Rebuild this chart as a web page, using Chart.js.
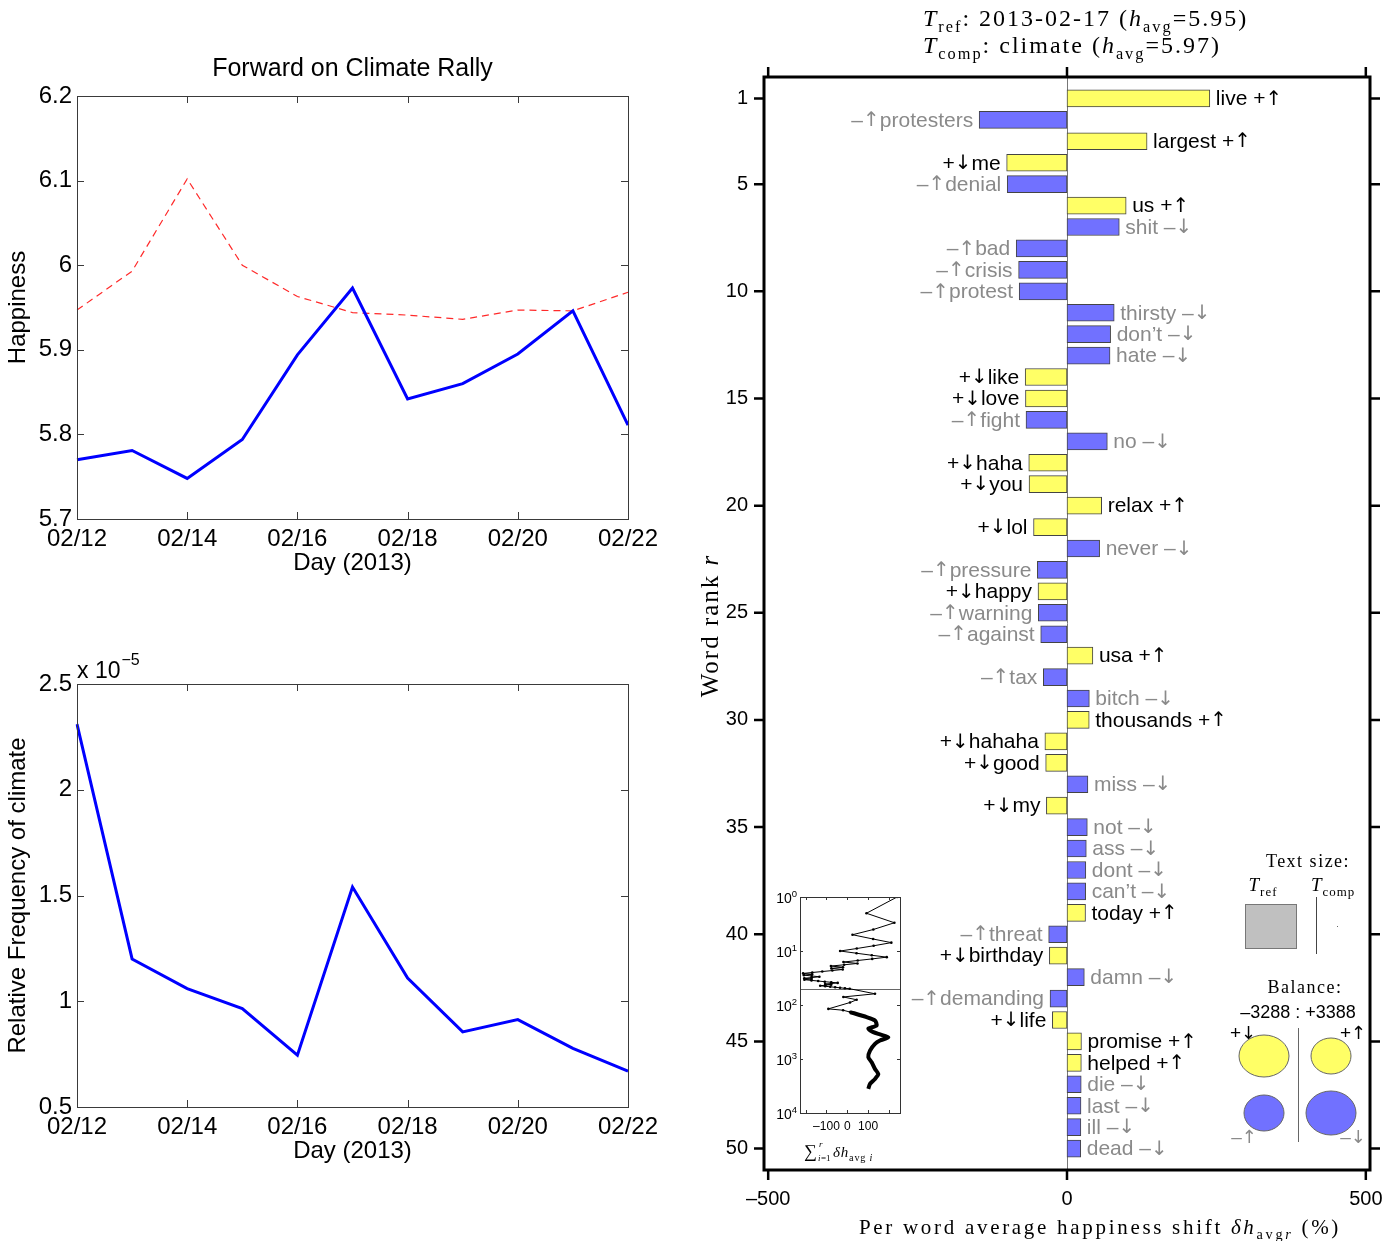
<!DOCTYPE html>
<html lang="en">
<head>
<meta charset="UTF-8">
<title>Forward on Climate Rally - word shift</title>
<script src="https://cdn.jsdelivr.net/npm/chart.js"></script>
<style>
  body { margin: 0; background: #fff; }
  #wrap { position: relative; width: 1391px; height: 1241px; background: #fff; }
  canvas { position: absolute; }
</style>
</head>
<body>
<div id="wrap">
  <canvas id="happyChart" style="left:0;top:40px;width:660px;height:560px" width="660" height="560"></canvas>
  <canvas id="freqChart" style="left:0;top:630px;width:660px;height:558px" width="660" height="558"></canvas>
  <canvas id="shiftChart" style="left:680px;top:0;width:711px;height:1241px" width="711" height="1241"></canvas>
  <canvas id="insetChart" style="left:770px;top:885px;width:145px;height:280px" width="145" height="280"></canvas>
</div>

<script>
// ---- data ----
const days = ['02/12', '02/13', '02/14', '02/15', '02/16', '02/17', '02/18', '02/19', '02/20', '02/21', '02/22'];
const happiness = [5.770, 5.781, 5.748, 5.794, 5.894, 5.973, 5.842, 5.860, 5.895, 5.946, 5.811];
const refHappiness = [5.947, 5.993, 6.102, 6.000, 5.963, 5.944, 5.941, 5.936, 5.947, 5.946, 5.968];
const climateFreq = [2.31, 1.20, 1.06, 0.965, 0.745, 1.54, 1.11, 0.855, 0.913, 0.777, 0.67]; // x 10^-5

const words = ['live', 'protesters', 'largest', 'me', 'denial', 'us', 'shit', 'bad', 'crisis', 'protest',
  'thirsty', 'don\u2019t', 'hate', 'like', 'love', 'fight', 'no', 'haha', 'you', 'relax',
  'lol', 'never', 'pressure', 'happy', 'warning', 'against', 'usa', 'tax', 'bitch', 'thousands',
  'hahaha', 'good', 'miss', 'my', 'not', 'ass', 'dont', 'can\u2019t', 'today', 'threat',
  'birthday', 'damn', 'demanding', 'life', 'promise', 'helped', 'die', 'last', 'ill', 'dead'];
const shifts = [239, -147, 134, -101, -100, 99, 87.5, -85, -81, -80,
  79, 73, 72, -70, -69.5, -68.6, 67.5, -64, -63.5, 58,
  -56, 54.6, -49.6, -48.5, -48, -44, 43.3, -39.6, 37.4, 37.2,
  -37, -35.7, 35, -34.5, 34, 32.3, 31.5, 31.2, 31, -30.7,
  -29.5, 29, -28.4, -24.5, 24.2, 24, 23.8, 23.4, 23.2, 23];
// '+' happier than average word, '-' sadder
const wordKind = ['+', '-', '+', '+', '-', '+', '-', '-', '-', '-',
  '-', '-', '-', '+', '+', '-', '-', '+', '+', '+',
  '+', '-', '-', '+', '-', '-', '+', '-', '-', '+',
  '+', '+', '-', '+', '-', '-', '-', '-', '+', '-',
  '+', '-', '-', '+', '+', '+', '-', '-', '-', '-'];
const rankTicks = [1, 5, 10, 15, 20, 25, 30, 35, 40, 45, 50];
const shiftTicks = [-500, 0, 500];
const balance = [-3288, 3388];

// inset: cumulative shift beyond the top 50 words
const tailRanks = [62, 71, 80, 90, 118, 125, 135];
const tailSums = [133, -19, 45, 13, -91, -20, 13];
const thickRanks = [135, 168, 194, 240, 275, 318, 350, 395, 455, 525, 700, 925, 1150, 1530, 1900, 2340, 2880, 3560];
const thickSums = [13, 93, 133, 141, 101, 125, 157, 197, 157, 133, 109, 101, 117, 133, 149, 133, 109, 101];
const insetRankTicks = [1, 10, 100, 1000, 10000];
const insetSumTicks = [-100, 0, 100];

// ---- common setup ----
const SANS = '"Liberation Sans", Arial, Helvetica, sans-serif';
const SERIF = '"Liberation Serif", "DejaVu Serif", serif';
const ARROWS = '"DejaVu Sans", sans-serif';
Chart.defaults.font.family = SANS;
Chart.defaults.color = '#000';
Chart.defaults.animation = false;
Chart.defaults.events = [];
Chart.defaults.plugins.legend.display = false;
Chart.defaults.plugins.tooltip.enabled = false;

const YELLOW = '#ffff66';
const BLUE = '#7171ff';
const GREYTXT = '#8a8a8a';

// draws text made of runs: n normal, i italic, sub, subi, sup
function drawRich(ctx, runs, x, y, size, family, spacing, align) {
  const fontFor = r => {
    const small = r.s === 'sub' || r.s === 'subi' || r.s === 'sup';
    const it = r.s === 'i' || r.s === 'subi';
    return (it ? 'italic ' : '') + (small ? size * 0.68 : size) + 'px ' + family;
  };
  ctx.save();
  ctx.letterSpacing = spacing + 'px';
  let w = 0;
  runs.forEach(r => { ctx.font = fontFor(r); w += ctx.measureText(r.t).width; });
  let cx = align === 'center' ? x - w / 2 : align === 'right' ? x - w : x;
  ctx.textAlign = 'left';
  ctx.textBaseline = 'alphabetic';
  runs.forEach(r => {
    ctx.font = fontFor(r);
    const dy = (r.s === 'sub' || r.s === 'subi') ? size * 0.25 : r.s === 'sup' ? -size * 0.42 : 0;
    ctx.fillText(r.t, cx, y + dy);
    cx += ctx.measureText(r.t).width;
  });
  ctx.restore();
}

// word label: sans text, arrows from a font with taller arrows
function drawLabel(ctx, text, x, y, size, align) {
  const parts = text.split(/([\u2191\u2193])/).filter(p => p);
  const fontOf = p => (p === '\u2191' || p === '\u2193' ? (size - 1) + 'px ' + ARROWS : size + 'px ' + SANS);
  let w = 0;
  parts.forEach(p => { ctx.font = fontOf(p); w += ctx.measureText(p).width; });
  let cx = align === 'right' ? x - w : align === 'center' ? x - w / 2 : x;
  ctx.textAlign = 'left';
  parts.forEach(p => { ctx.font = fontOf(p); ctx.fillText(p, cx, y); cx += ctx.measureText(p).width; });
}

// MATLAB-like box with inward ticks
const matlabBox = {
  id: 'matlabBox',
  afterDatasetsDraw(chart) {
    const { ctx, chartArea: a, scales } = chart;
    ctx.save();
    ctx.strokeStyle = '#3a3a3a';
    ctx.lineWidth = 1;
    ctx.strokeRect(Math.round(a.left) + 0.5, Math.round(a.top) + 0.5, Math.round(a.width), Math.round(a.height));
    ctx.beginPath();
    scales.y.ticks.forEach(t => {
      const y = Math.round(scales.y.getPixelForValue(t.value)) + 0.5;
      ctx.moveTo(a.left, y); ctx.lineTo(a.left + 7, y);
      ctx.moveTo(a.right, y); ctx.lineTo(a.right - 7, y);
    });
    scales.x.ticks.forEach((t, i) => {
      if (i % 2) return;
      const x = Math.round(scales.x.getPixelForTick(i)) + 0.5;
      ctx.moveTo(x, a.top); ctx.lineTo(x, a.top + 7);
      ctx.moveTo(x, a.bottom); ctx.lineTo(x, a.bottom - 7);
    });
    ctx.stroke();
    const title = chart.options.plugins.boxTitle;
    if (title && title.text) {
      ctx.fillStyle = '#000';
      ctx.font = '25px ' + SANS;
      ctx.textAlign = 'center';
      ctx.textBaseline = 'middle';
      ctx.fillText(title.text, (a.left + a.right) / 2, 29);
    }
    ctx.restore();
  }
};

function leftScales(yOpts, yTitle) {
  return {
    x: {
      grid: { display: false, drawTicks: true, tickLength: 5 }, border: { display: false },
      ticks: { autoSkip: false, maxRotation: 0, padding: 1, font: { size: 24 },
        callback: (v, i) => (i % 2 === 0 ? days[i] : '') },
      title: { display: true, text: 'Day (2013)', font: { size: 24 }, padding: { top: 0, bottom: 22 } },
      afterFit: s => { s.height = 81; }
    },
    y: Object.assign({
      grid: { display: false, drawTicks: false }, border: { display: false },
      title: { display: true, text: yTitle, font: { size: 24 }, padding: { top: 4, bottom: 0 } },
      afterFit: s => { s.width = 77; }
    }, yOpts)
  };
}
const plainNum = v => String(+v.toFixed(2));

// ---- top left: happiness ----
new Chart(document.getElementById('happyChart'), {
  type: 'line',
  data: {
    labels: days,
    datasets: [
      { data: happiness, borderColor: '#0000ff', borderWidth: 3, pointRadius: 0, tension: 0 },
      { data: refHappiness, borderColor: '#ff2a2a', borderWidth: 1.2, borderDash: [7, 5], pointRadius: 0, tension: 0 }
    ]
  },
  options: {
    responsive: false,
    layout: { padding: { top: 56, right: 32 } },
    plugins: { boxTitle: { text: 'Forward on Climate Rally' } },
    scales: leftScales({ min: 5.7, max: 6.2,
      ticks: { stepSize: 0.1, padding: 5, font: { size: 24 }, callback: plainNum } }, 'Happiness')
  },
  plugins: [matlabBox]
});

// ---- bottom left: relative frequency ----
new Chart(document.getElementById('freqChart'), {
  type: 'line',
  data: {
    labels: days,
    datasets: [{ data: climateFreq, borderColor: '#0000ff', borderWidth: 3, pointRadius: 0, tension: 0 }]
  },
  options: {
    responsive: false,
    layout: { padding: { top: 54, right: 32 } },
    scales: leftScales({ min: 0.5, max: 2.5,
      ticks: { stepSize: 0.5, padding: 5, font: { size: 24 }, callback: plainNum } },
      'Relative Frequency of climate')
  },
  plugins: [matlabBox, {
    id: 'multiplier',
    afterDraw(chart) {
      const { ctx, chartArea: a } = chart;
      ctx.save();
      ctx.fillStyle = '#000';
      ctx.font = '23px ' + SANS;
      ctx.textBaseline = 'alphabetic';
      ctx.fillText('x 10', a.left, a.top - 6);
      const w = ctx.measureText('x 10').width;
      ctx.font = '16px ' + SANS;
      ctx.fillText('\u22125', a.left + w + 1, a.top - 19);
      ctx.restore();
    }
  }]
});

// ---- right: word shift ----
const OX = 680;
const shiftDecor = {
  id: 'shiftDecor',
  beforeDatasetsDraw(chart) {
    const { ctx, chartArea: a, scales } = chart;
    const x0 = Math.round(scales.x.getPixelForValue(0)) + 0.5;
    ctx.save();
    ctx.strokeStyle = '#777';
    ctx.lineWidth = 1;
    ctx.beginPath(); ctx.moveTo(x0, a.top); ctx.lineTo(x0, a.bottom); ctx.stroke();
    ctx.restore();
  },
  afterDatasetsDraw(chart) {
    const { ctx, chartArea: a, scales } = chart;
    const meta = chart.getDatasetMeta(0);
    ctx.save();
    ctx.textBaseline = 'middle';
    meta.data.forEach((bar, i) => {
      const v = shifts[i];
      const k = wordKind[i];
      const arrow = (k === '+') === (v > 0) ? '\u2191' : '\u2193';
      const sign = k === '+' ? '+' : '\u2013';
      ctx.fillStyle = k === '+' ? '#000' : GREYTXT;
      if (v > 0) {
        drawLabel(ctx, words[i] + ' ' + sign + arrow, bar.x + 6, bar.y + 1, 21, 'left');
      } else {
        drawLabel(ctx, sign + arrow + words[i], bar.x - 6, bar.y + 1, 21, 'right');
      }
    });
    ctx.restore();

    // frame and outward ticks
    ctx.save();
    ctx.strokeStyle = '#000';
    ctx.lineWidth = 3;
    ctx.strokeRect(a.left, a.top, a.width, a.height);
    ctx.lineWidth = 2.5;
    ctx.beginPath();
    rankTicks.forEach(r => {
      const y = scales.y.getPixelForValue(r);
      ctx.moveTo(a.left - 10, y); ctx.lineTo(a.left, y);
      ctx.moveTo(a.right, y); ctx.lineTo(a.right + 10, y);
    });
    shiftTicks.forEach(s => {
      const x = scales.x.getPixelForValue(s);
      ctx.moveTo(x, a.top - 10); ctx.lineTo(x, a.top);
      ctx.moveTo(x, a.bottom); ctx.lineTo(x, a.bottom + 10);
    });
    ctx.stroke();
    ctx.restore();

    // titles
    ctx.fillStyle = '#000';
    drawRich(ctx, [{ t: 'T', s: 'i' }, { t: 'ref', s: 'sub' }, { t: ': 2013-02-17 (', s: 'n' }, { t: 'h', s: 'i' },
      { t: 'avg', s: 'sub' }, { t: '=5.95)', s: 'n' }], 923 - OX, 26, 24, SERIF, 2, 'left');
    drawRich(ctx, [{ t: 'T', s: 'i' }, { t: 'comp', s: 'sub' }, { t: ': climate (', s: 'n' }, { t: 'h', s: 'i' },
      { t: 'avg', s: 'sub' }, { t: '=5.97)', s: 'n' }], 923 - OX, 53, 24, SERIF, 2, 'left');

    ctx.save();
    ctx.translate(718 - OX, (a.top + a.bottom) / 2 + 2);
    ctx.rotate(-Math.PI / 2);
    drawRich(ctx, [{ t: 'Word rank ', s: 'n' }, { t: 'r', s: 'i' }], 0, 0, 25, SERIF, 2, 'center');
    ctx.restore();

    drawRich(ctx, [{ t: 'Per word average happiness shift ', s: 'n' }, { t: '\u03b4h', s: 'i' },
      { t: 'avg', s: 'sub' }, { t: 'r', s: 'subi' }, { t: ' (%)', s: 'n' }],
      1100 - OX, 1234, 21, SERIF, 2.7, 'center');

    // text size legend
    ctx.save();
    ctx.fillStyle = '#000';
    drawRich(ctx, [{ t: 'Text size:', s: 'n' }], 1308 - OX, 867, 18, SERIF, 1.5, 'center');
    drawRich(ctx, [{ t: 'T', s: 'i' }, { t: 'ref', s: 'sub' }], 1263 - OX, 891, 19, SERIF, 1, 'center');
    drawRich(ctx, [{ t: 'T', s: 'i' }, { t: 'comp', s: 'sub' }], 1333 - OX, 891, 19, SERIF, 1, 'center');
    ctx.fillStyle = '#c0c0c0';
    ctx.strokeStyle = '#777';
    ctx.lineWidth = 1;
    ctx.fillRect(1245 - OX, 904, 51, 44);
    ctx.strokeRect(1245.5 - OX, 904.5, 51, 44);
    ctx.strokeStyle = '#444';
    ctx.beginPath(); ctx.moveTo(1316.5 - OX, 897); ctx.lineTo(1316.5 - OX, 954); ctx.stroke();
    ctx.fillStyle = '#666';
    ctx.fillRect(1337 - OX, 926, 1, 1);

    // balance legend
    ctx.fillStyle = '#000';
    drawRich(ctx, [{ t: 'Balance:', s: 'n' }], 1305 - OX, 993, 18, SERIF, 1.5, 'center');
    ctx.font = '18px ' + SANS;
    ctx.textAlign = 'center';
    ctx.textBaseline = 'alphabetic';
    ctx.fillText('\u2013' + Math.abs(balance[0]) + ' : +' + balance[1], 1298 - OX, 1018);
    const ell = (cx, cy, rx, ry, col) => {
      ctx.beginPath(); ctx.ellipse(cx - OX, cy, rx, ry, 0, 0, Math.PI * 2);
      ctx.fillStyle = col; ctx.fill(); ctx.strokeStyle = '#666'; ctx.stroke();
    };
    ell(1264, 1056, 25, 21, YELLOW);
    ell(1331, 1056, 20, 18, YELLOW);
    ell(1264, 1113, 20, 18, BLUE);
    ell(1331, 1113, 25, 22, BLUE);
    ctx.strokeStyle = '#666';
    ctx.beginPath(); ctx.moveTo(1298.5 - OX, 1028); ctx.lineTo(1298.5 - OX, 1142); ctx.stroke();
    ctx.fillStyle = '#000';
    drawLabel(ctx, '+\u2193', 1243 - OX, 1039, 19, 'center');
    drawLabel(ctx, '+\u2191', 1353 - OX, 1039, 19, 'center');
    ctx.fillStyle = GREYTXT;
    drawLabel(ctx, '\u2013\u2191', 1244 - OX, 1143, 19, 'center');
    drawLabel(ctx, '\u2013\u2193', 1353 - OX, 1143, 19, 'center');
    ctx.restore();
  }
};

new Chart(document.getElementById('shiftChart'), {
  type: 'bar',
  data: {
    datasets: [{
      data: shifts.map((v, i) => ({ x: v, y: i + 1 })),
      backgroundColor: wordKind.map(k => (k === '+' ? YELLOW : BLUE)),
      borderColor: '#444',
      borderWidth: 1,
      borderSkipped: false,
      barThickness: 17
    }]
  },
  options: {
    responsive: false,
    indexAxis: 'y',
    layout: { padding: { top: 77, right: 21 } },
    scales: {
      x: {
        type: 'linear', min: -507, max: 507,
        grid: { display: false, drawTicks: true, tickLength: 15 }, border: { display: false },
        afterBuildTicks: s => { s.ticks = shiftTicks.map(v => ({ value: v })); },
        ticks: { padding: 2, font: { size: 20 }, callback: v => (v < 0 ? '\u2013' + Math.abs(v) : v) },
        afterFit: s => { s.height = 71; }
      },
      y: {
        type: 'linear', min: 0, max: 51, reverse: true, offset: false,
        grid: { display: false, drawTicks: false }, border: { display: false },
        afterBuildTicks: s => { s.ticks = rankTicks.map(v => ({ value: v })); },
        ticks: { padding: 16, font: { size: 20 } },
        afterFit: s => { s.width = 84; }
      }
    }
  },
  plugins: [shiftDecor]
});

// ---- inset: cumulative sum of shifts ----
let run = 0;
const topSums = shifts.map((v, i) => { run += v; return { x: run, y: i + 1 }; });
const thinLine = topSums.concat(tailRanks.map((r, i) => ({ x: tailSums[i], y: r })));
const thickLine = thickRanks.map((r, i) => ({ x: thickSums[i], y: r }));

const insetDecor = {
  id: 'insetDecor',
  beforeDatasetsDraw(chart) {
    const { ctx, chartArea: a, scales } = chart;
    const y = Math.round(scales.y.getPixelForValue(words.length)) + 0.5;
    ctx.save();
    ctx.strokeStyle = '#666';
    ctx.lineWidth = 1;
    ctx.beginPath(); ctx.moveTo(a.left, y); ctx.lineTo(a.right, y); ctx.stroke();
    ctx.restore();
  },
  afterDatasetsDraw(chart) {
    const { ctx, chartArea: a, scales } = chart;
    ctx.save();
    ctx.strokeStyle = '#333';
    ctx.lineWidth = 1;
    ctx.strokeRect(Math.round(a.left) + 0.5, Math.round(a.top) + 0.5, Math.round(a.width), Math.round(a.height));
    ctx.beginPath();
    insetRankTicks.forEach(r => {
      const y = Math.round(scales.y.getPixelForValue(r)) + 0.5;
      ctx.moveTo(a.left, y); ctx.lineTo(a.left + 3, y);
      ctx.moveTo(a.right, y); ctx.lineTo(a.right - 3, y);
    });
    [-200, -100, 0, 100, 200].forEach(s => {
      const x = Math.round(scales.x.getPixelForValue(s)) + 0.5;
      ctx.moveTo(x, a.top); ctx.lineTo(x, a.top + 3);
      ctx.moveTo(x, a.bottom); ctx.lineTo(x, a.bottom - 3);
    });
    ctx.stroke();
    // log labels 10^k
    ctx.fillStyle = '#000';
    insetRankTicks.forEach(r => {
      const y = scales.y.getPixelForValue(r);
      drawRich(ctx, [{ t: '10', s: 'n' }, { t: String(Math.round(Math.log10(r))), s: 'sup' }],
        a.left - 3, y + 6, 14, SANS, 0, 'right');
    });
    // sum label
    const bx = a.left + 4, by = a.bottom + 44;
    ctx.font = '18px ' + SERIF;
    ctx.textAlign = 'left';
    ctx.fillText('\u2211', bx, by);
    ctx.font = 'italic 9px ' + SERIF;
    ctx.fillText('i', bx + 14, by + 4);
    ctx.font = '9px ' + SERIF;
    ctx.fillText('=1', bx + 17, by + 4);
    ctx.font = 'italic 9px ' + SERIF;
    ctx.fillText('r', bx + 15, by - 10);
    drawRich(ctx, [{ t: '\u03b4', s: 'i' }, { t: 'h', s: 'i' }, { t: 'avg', s: 'sub' }, { t: ' i', s: 'subi' }],
      bx + 29, by, 15, SERIF, 0.8, 'left');
    ctx.restore();
  }
};

new Chart(document.getElementById('insetChart'), {
  type: 'scatter',
  data: {
    datasets: [
      { data: thinLine, showLine: true, borderColor: '#000', borderWidth: 1, pointRadius: 1.3,
        pointBackgroundColor: '#000', pointBorderWidth: 0 },
      { data: thickLine, showLine: true, borderColor: '#000', borderWidth: 4, pointRadius: 0, tension: 0.2 }
    ]
  },
  options: {
    responsive: false,
    layout: { padding: { top: 12, right: 15 } },
    scales: {
      x: {
        type: 'linear', min: -227, max: 253,
        grid: { display: false, drawTicks: false }, border: { display: false },
        afterBuildTicks: s => { s.ticks = insetSumTicks.map(v => ({ value: v })); },
        ticks: { padding: 6, font: { size: 12 }, callback: v => (v < 0 ? '\u2013' + Math.abs(v) : v) },
        afterFit: s => { s.height = 52; }
      },
      y: {
        type: 'logarithmic', min: 1, max: 10000, reverse: true,
        grid: { display: false, drawTicks: false }, border: { display: false },
        ticks: { display: false },
        afterFit: s => { s.width = 30; }
      }
    }
  },
  plugins: [insetDecor]
});
</script>
</body>
</html>
